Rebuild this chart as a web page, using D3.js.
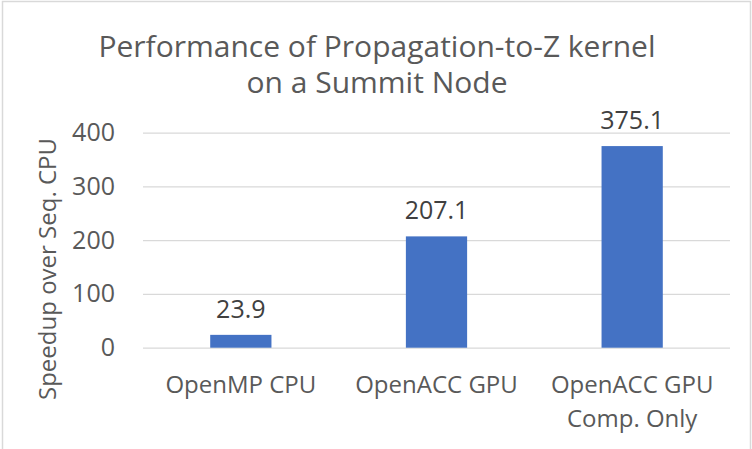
<!DOCTYPE html>
<html>
<head>
<meta charset="utf-8">
<script src="https://cdn.jsdelivr.net/npm/d3@7"></script>
<style>
  html, body { margin: 0; padding: 0; background: #fff; }
  svg { display: block; }
  text { font-family: "Open Sans", sans-serif; }
</style>
</head>
<body>
<svg id="chart" width="752" height="449"></svg>
<script>
const titleLines = ["Performance of Propagation-to-Z kernel", "on a Summit Node"];
const categories = [["OpenMP CPU"], ["OpenACC GPU"], ["OpenACC GPU", "Comp. Only"]];
const values = [23.9, 207.1, 375.1];
const yTicks = [0, 100, 200, 300, 400];
const yTitle = "Speedup over Seq. CPU";

const svg = d3.select("#chart");
const W = 752, H = 449;
const plot = { left: 143, right: 730, top: 132.7, bottom: 347.7 };

svg.append("rect").attr("x", 0).attr("y", 0).attr("width", W).attr("height", H).attr("fill", "#fff");
svg.append("rect").attr("x", 2.5).attr("y", 1.5).attr("width", 748).attr("height", 470)
  .attr("fill", "none").attr("stroke", "#d9d9d9").attr("stroke-width", 1.5);

const keys = categories.map(c => c.join(" "));
const x = d3.scaleBand().domain(keys).range([plot.left, plot.right]).paddingInner(0.687).paddingOuter(0.3435);
const y = d3.scaleLinear().domain([0, 400]).range([plot.bottom, plot.top]);

// gridlines
const grid = svg.append("g")
  .attr("transform", `translate(${plot.left},0)`)
  .call(d3.axisLeft(y).tickValues(yTicks).tickSize(-(plot.right - plot.left)).tickFormat(""));
grid.select(".domain").remove();
grid.selectAll(".tick line").attr("stroke", "#d9d9d9").attr("stroke-width", 1.3);

// y tick labels
const yAxis = svg.append("g").attr("transform", `translate(${plot.left},0)`)
  .call(d3.axisLeft(y).tickValues(yTicks).tickSize(0).tickPadding(28).tickFormat(d3.format("d")));
yAxis.select(".domain").remove();
yAxis.selectAll("text").attr("fill", "#595959").style("font-size", "25px").style("font-family", "'Open Sans', sans-serif");

// bars
svg.append("g").selectAll("rect").data(values).join("rect")
  .attr("x", (d, i) => x(keys[i]))
  .attr("width", x.bandwidth())
  .attr("y", d => y(d))
  .attr("height", d => y(0) - y(d))
  .attr("fill", "#4472C4");

// value labels
svg.append("g").selectAll("text").data(values).join("text")
  .attr("x", (d, i) => x(keys[i]) + x.bandwidth() / 2)
  .attr("y", d => y(d) - 17)
  .attr("text-anchor", "middle")
  .attr("fill", "#404040")
  .style("font-size", "25px")
  .text(d => d3.format(".1f")(d));

// category labels
const cat = svg.append("g").selectAll("text").data(categories).join("text")
  .attr("x", (d, i) => x(keys[i]) + x.bandwidth() / 2)
  .attr("y", 393)
  .attr("text-anchor", "middle")
  .attr("fill", "#595959")
  .style("font-size", "24px");
cat.selectAll("tspan").data(d => d).join("tspan")
  .attr("x", function () { return d3.select(this.parentNode).attr("x"); })
  .attr("dy", (d, i) => i === 0 ? 0 : 34)
  .text(d => d);

// y title
svg.append("text")
  .attr("transform", `translate(56,269) rotate(-90)`)
  .attr("text-anchor", "middle")
  .attr("fill", "#595959")
  .style("font-size", "24px")
  .text(yTitle);

// title
svg.append("text")
  .attr("x", 377).attr("y", 57)
  .attr("text-anchor", "middle")
  .attr("fill", "#595959")
  .style("font-size", "30px")
  .selectAll("tspan").data(titleLines).join("tspan")
  .attr("x", 377)
  .attr("dy", (d, i) => i === 0 ? 0 : 36)
  .text(d => d);
</script>
</body>
</html>
